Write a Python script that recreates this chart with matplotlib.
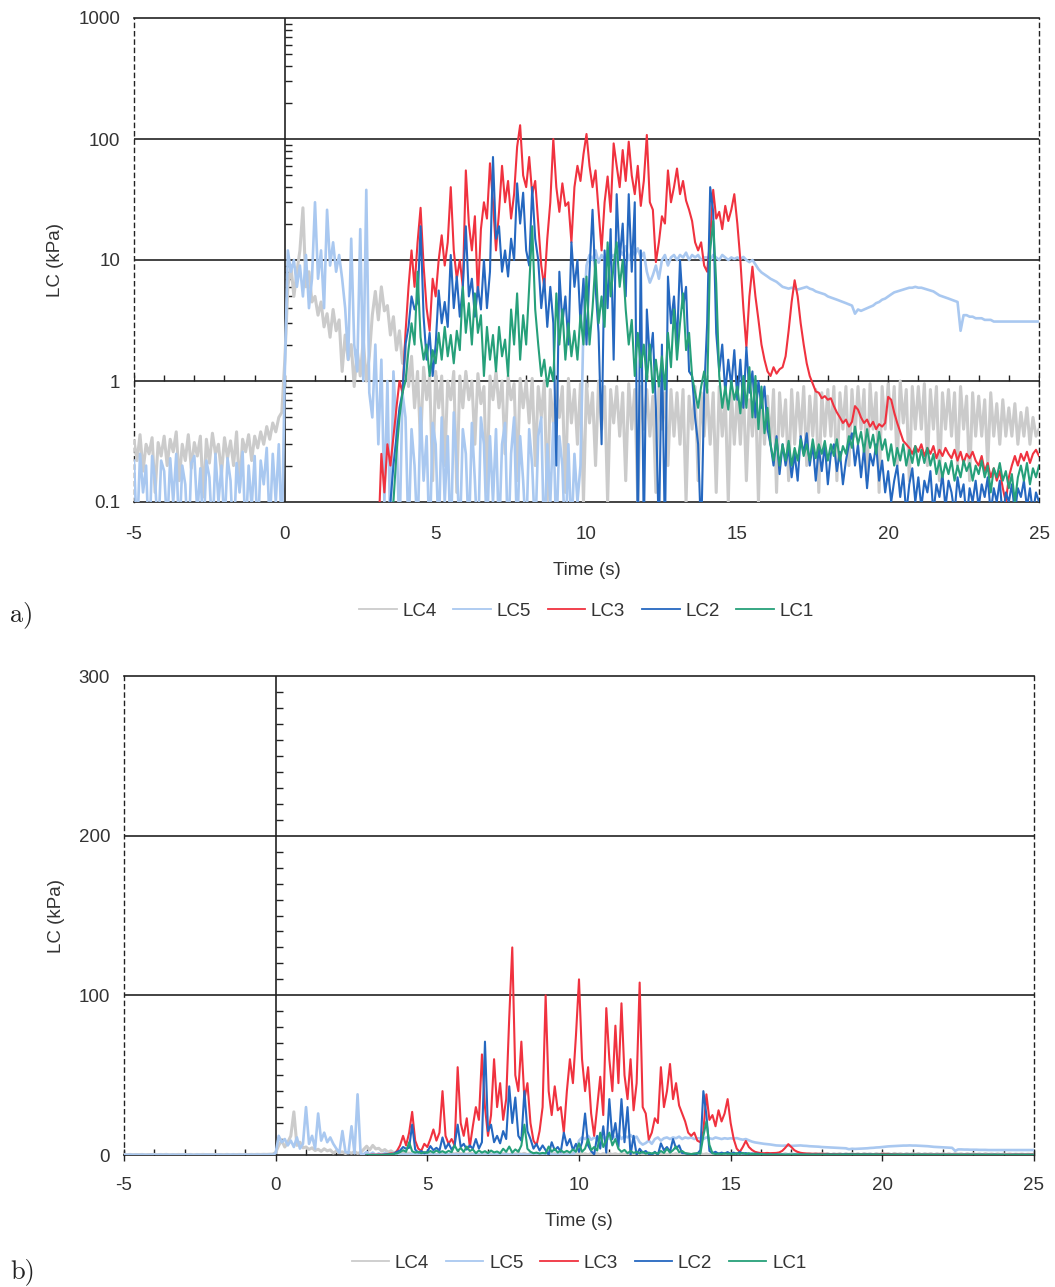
import numpy as np
import matplotlib.pyplot as plt

plt.rcParams['font.family'] = ['Liberation Sans', 'DejaVu Sans']
plt.rcParams['font.size'] = 13.5
TXT = '#333333'

t0_full = -5.0
t0_event = 3.0

lc4 = [
    0.32, 0.22, 0.36, 0.18, 0.30, 0.25, 0.34, 0.12, 0.31, 0.24,
    0.35, 0.20, 0.33, 0.26, 0.38, 0.15, 0.30, 0.22, 0.36, 0.19,
    0.31, 0.24, 0.35, 0.11, 0.33, 0.21, 0.37, 0.25, 0.30, 0.17,
    0.34, 0.23, 0.32, 0.20, 0.38, 0.13, 0.33, 0.26, 0.36, 0.22,
    0.35, 0.28, 0.38, 0.30, 0.42, 0.33, 0.45, 0.38, 0.50, 0.55,
    1.5, 6.0, 9.0, 5.0, 8.0, 12.0, 27.0, 6.0, 8.0, 4.5,
    5.0, 3.5, 4.5, 2.8, 3.6, 2.3, 3.9, 2.6, 3.2, 1.2,
    2.4, 1.5, 2.0, 0.9, 1.8, 1.1, 2.2, 1.0, 1.6, 3.5,
    5.5, 3.2, 6.0, 3.8, 4.2, 2.4, 3.4, 1.8, 2.6, 1.4,
    2.0, 0.9, 1.6, 0.6, 1.2, 0.3, 1.3, 0.7, 1.1, 0.15,
    1.2, 0.6, 1.1, 0.2, 1.0, 0.7, 1.2, 0.12, 1.1, 0.6,
    1.2, 0.7, 1.0, 0.3, 1.15, 0.65, 0.9, 0.12, 1.1, 0.7,
    1.2, 0.6, 1.0, 0.25, 1.1, 0.7, 0.95, 0.15, 1.05, 0.6,
    1.0, 0.45, 1.05, 0.2, 0.9, 0.5, 1.0, 0.1, 0.85, 0.45,
    1.0, 0.5, 0.9, 0.12, 1.05, 0.45, 0.85, 0.3, 0.95, 0.1,
    0.95, 0.45, 0.8, 0.2, 1.0, 0.4, 0.9, 0.1, 0.85, 0.45,
    0.9, 0.35, 0.8, 0.15, 0.95, 0.4, 0.85, 0.1, 0.9, 0.4,
    0.85, 0.35, 0.75, 0.12, 0.9, 0.4, 0.8, 0.2, 0.85, 0.35,
    0.8, 0.3, 0.85, 0.1, 0.75, 0.4, 0.9, 0.15, 0.8, 0.35,
    0.85, 0.3, 0.8, 0.12, 0.9, 0.35, 0.75, 0.1, 0.85, 0.3,
    0.8, 0.3, 0.9, 0.15, 0.7, 0.35, 0.85, 0.1, 0.8, 0.3,
    0.75, 0.3, 0.85, 0.12, 0.8, 0.35, 0.7, 0.15, 0.85, 0.3,
    0.8, 0.35, 0.9, 0.2, 0.75, 0.35, 0.85, 0.12, 0.8, 0.35,
    0.85, 0.35, 0.9, 0.15, 0.8, 0.4, 0.9, 0.2, 0.85, 0.35,
    0.9, 0.4, 0.85, 0.15, 0.95, 0.4, 0.8, 0.12, 0.9, 0.4,
    0.95, 0.4, 0.9, 0.2, 1.0, 0.45, 0.85, 0.15, 0.9, 0.4,
    0.9, 0.4, 0.95, 0.2, 0.85, 0.4, 0.9, 0.15, 0.8, 0.4,
    0.85, 0.35, 0.8, 0.2, 0.9, 0.4, 0.75, 0.15, 0.8, 0.35,
    0.75, 0.35, 0.7, 0.2, 0.8, 0.35, 0.65, 0.3, 0.7, 0.35,
    0.6, 0.35, 0.65, 0.3, 0.55, 0.35, 0.6, 0.3, 0.5, 0.35,
    0.4,
]

lc5 = [
    0.22, 0.05, 0.25, 0.12, 0.20, 0.04, 0.24, 0.15, 0.05, 0.22,
    0.18, 0.06, 0.23, 0.10, 0.25, 0.05, 0.20, 0.14, 0.04, 0.21,
    0.24, 0.08, 0.19, 0.05, 0.22, 0.16, 0.05, 0.25, 0.10, 0.20,
    0.06, 0.23, 0.15, 0.04, 0.21, 0.12, 0.26, 0.05, 0.20, 0.09,
    0.24, 0.05, 0.22, 0.14, 0.28, 0.06, 0.25, 0.10, 0.30, 0.05,
    1.2, 12.0, 8.0, 10.0, 6.0, 9.0, 5.0, 11.0, 4.0, 7.0,
    30.0, 7.0, 12.0, 4.0, 26.0, 9.0, 14.0, 8.0, 11.0, 7.0,
    4.0, 1.5, 15.0, 2.0, 1.2, 18.0, 1.0, 38.0, 0.8, 0.5,
    2.0, 0.3, 1.5, 0.1, 1.0, 0.05, 1.2, 0.4, 0.05, 0.8,
    0.5, 0.05, 0.4, 0.2, 0.05, 0.6, 0.15, 0.35, 0.04, 0.45,
    0.3, 0.05, 0.5, 0.1, 0.35, 0.04, 0.55, 0.2, 0.05, 0.4,
    0.25, 0.05, 0.45, 0.15, 0.04, 0.5, 0.3, 0.05, 0.35, 0.1,
    0.4, 0.05, 0.3, 0.45, 0.04, 0.25, 0.5, 0.05, 0.35, 0.15,
    0.05, 0.4, 0.2, 0.05, 0.35, 0.5, 0.04, 0.3, 0.1, 0.45,
    0.05, 0.35, 0.2, 0.04, 0.3, 0.05, 0.25, 0.1, 0.2, 3.0,
    9.0, 11.0, 10.0, 12.0, 9.5, 11.0, 10.0, 12.0, 10.5, 11.0,
    10.0, 12.0, 11.0, 13.0, 10.0, 12.0, 11.0, 12.5, 10.5, 11.5,
    8.0, 6.5, 7.5, 9.0, 7.0, 10.0, 11.0, 9.0, 10.5, 11.0,
    10.0, 11.0, 10.5, 11.5, 10.0, 11.0, 10.5, 11.0, 10.0, 10.5,
    10.5, 10.0, 11.0, 10.5, 10.0, 11.0, 10.5, 10.0, 10.5, 10.2,
    10.5, 10.2, 10.6, 10.0, 9.6, 10.0, 9.2, 8.4, 7.9, 7.6,
    7.3, 7.0, 6.8, 6.6, 6.3, 6.0, 5.9, 5.8, 5.9, 5.8,
    5.7, 5.8, 5.9, 6.0, 5.8, 5.7, 5.5, 5.4, 5.3, 5.2,
    5.0, 4.9, 4.8, 4.7, 4.6, 4.5, 4.4, 4.3, 4.2, 3.6,
    3.9, 3.8, 3.9, 4.0, 4.1, 4.2, 4.4, 4.5, 4.7, 4.8,
    5.0, 5.2, 5.4, 5.5, 5.6, 5.7, 5.8, 5.9, 5.9, 6.0,
    5.9, 5.9, 5.8, 5.7, 5.6, 5.5, 5.3, 5.1, 5.0, 4.9,
    4.8, 4.7, 4.6, 4.5, 2.6, 3.5, 3.5, 3.4, 3.4, 3.3,
    3.3, 3.3, 3.2, 3.2, 3.2, 3.1, 3.1, 3.1, 3.1, 3.1,
    3.1, 3.1, 3.1, 3.1, 3.1, 3.1, 3.1, 3.1, 3.1, 3.1,
    3.1,
]

lc3 = [
    0.02, 0.05, 0.25, 0.12, 0.3, 0.2, 0.35, 0.6, 1.0, 0.8,
    2.5, 6.0, 12.0, 6.0, 14.0, 27.0, 9.0, 4.0, 2.6, 7.0,
    5.0, 10.0, 16.0, 9.0, 14.0, 40.0, 12.0, 7.0, 10.0, 6.0,
    55.0, 20.0, 12.0, 23.0, 5.0, 18.0, 30.0, 22.0, 63.0, 30.0,
    12.0, 25.0, 60.0, 30.0, 45.0, 22.0, 35.0, 86.0, 130.0, 50.0,
    40.0, 71.0, 35.0, 45.0, 20.0, 9.0, 6.0, 15.0, 30.0, 100.0,
    40.0, 25.0, 43.0, 28.0, 30.0, 14.0, 40.0, 60.0, 45.0, 75.0,
    110.0, 60.0, 40.0, 55.0, 26.0, 12.0, 30.0, 49.0, 25.0, 92.0,
    60.0, 40.0, 81.0, 45.0, 95.0, 50.0, 35.0, 60.0, 28.0, 45.0,
    108.0, 30.0, 26.0, 9.6, 14.0, 23.0, 20.0, 55.0, 30.0, 40.0,
    57.0, 35.0, 45.0, 31.0, 26.0, 21.0, 14.0, 12.0, 14.0, 9.0,
    8.0, 15.0, 38.0, 22.0, 25.0, 18.0, 28.0, 21.0, 26.0, 35.0,
    20.0, 10.0, 4.0, 1.9, 5.0, 8.8, 5.0, 3.2, 2.0, 1.5,
    1.2, 1.1, 1.3, 1.15, 1.25, 1.3, 1.6, 2.6, 4.5, 6.8,
    5.0, 3.0, 2.0, 1.4, 1.1, 0.95, 0.82, 0.8, 0.72, 0.75,
    0.7, 0.72, 0.62, 0.55, 0.5, 0.45, 0.48, 0.42, 0.46, 0.62,
    0.58, 0.5, 0.45, 0.48, 0.42, 0.46, 0.4, 0.44, 0.42, 0.45,
    0.74, 0.7, 0.55, 0.45, 0.38, 0.32, 0.3, 0.28, 0.25, 0.29,
    0.26, 0.3, 0.24, 0.28, 0.25, 0.29, 0.23, 0.27, 0.24, 0.28,
    0.25, 0.23, 0.27, 0.22, 0.26, 0.21, 0.25, 0.23, 0.26, 0.22,
    0.2, 0.24, 0.18, 0.21, 0.16, 0.19, 0.15, 0.18, 0.13, 0.1,
    0.16, 0.2, 0.24, 0.2, 0.25, 0.22, 0.26, 0.21, 0.25, 0.27,
    0.24,
]

lc2 = [
    0.01, 0.01, 0.01, 0.01, 0.01, 0.1, 0.2, 0.35, 0.6, 0.8,
    2.0, 2.8, 5.0, 3.9, 4.5, 19.0, 3.4, 1.5, 2.5, 1.1,
    2.0, 5.6, 3.0, 4.5, 2.8, 11.0, 4.0, 7.3, 3.4, 6.0,
    19.0, 5.0, 7.0, 3.4, 6.0, 3.9, 10.0, 4.0, 8.0, 71.0,
    15.0, 19.0, 8.0, 12.0, 7.3, 15.0, 10.0, 43.0, 20.0, 36.0,
    12.0, 9.0, 40.0, 15.0, 10.0, 4.0, 7.0, 2.8, 6.0, 3.0,
    0.2, 8.0, 3.0, 5.0, 2.0, 14.0, 6.0, 10.0, 3.0, 7.0,
    2.0, 8.0, 26.0, 6.0, 2.5, 0.3, 12.0, 4.0, 18.0, 1.5,
    35.0, 10.0, 20.0, 5.0, 35.0, 8.0, 30.0, 0.05, 12.0, 0.05,
    3.9, 1.5, 2.5, 0.6, 0.05, 2.0, 0.05, 7.3, 3.0, 5.0,
    2.0, 10.0, 4.0, 6.0, 1.2, 1.1, 0.5, 0.3, 0.05, 0.8,
    3.0, 40.0, 25.0, 2.5, 1.2, 2.0, 0.8, 1.5, 0.9, 1.8,
    0.7, 1.5, 0.6, 1.9, 0.8, 1.2, 0.5, 1.0, 0.6, 0.9,
    0.4, 0.3, 0.2, 0.35, 0.17, 0.3, 0.2, 0.28, 0.16, 0.25,
    0.15, 0.35, 0.25, 0.37, 0.2, 0.3, 0.15, 0.28, 0.18, 0.3,
    0.14, 0.25, 0.3, 0.18, 0.26, 0.14, 0.22, 0.3, 0.37, 0.2,
    0.3, 0.16, 0.28, 0.13, 0.25, 0.2, 0.3, 0.15, 0.22, 0.12,
    0.18, 0.1, 0.15, 0.2, 0.11, 0.17, 0.08, 0.14, 0.19, 0.1,
    0.16, 0.09, 0.15, 0.12, 0.18, 0.08, 0.14, 0.11, 0.17, 0.09,
    0.15, 0.12, 0.08, 0.16, 0.11, 0.14, 0.07, 0.13, 0.1, 0.15,
    0.09, 0.14, 0.11, 0.16, 0.08, 0.13, 0.1, 0.15, 0.07, 0.12,
    0.1, 0.14, 0.08, 0.13, 0.11, 0.15, 0.09, 0.13, 0.08, 0.12,
    0.1,
]

lc1 = [
    0.01, 0.01, 0.01, 0.01, 0.01, 0.01, 0.1, 0.25, 0.5, 0.8,
    1.0, 1.8, 3.0, 2.0, 8.0, 2.3, 1.5, 2.0, 1.1, 1.8,
    1.4, 2.5, 1.5, 2.8, 1.6, 2.4, 1.4, 2.6, 1.8, 6.0,
    2.5, 4.4, 2.0, 5.3, 2.5, 3.5, 1.1, 2.8, 1.5, 2.4,
    1.2, 2.8, 1.6, 2.2, 1.1, 3.9, 2.0, 5.3, 1.5, 3.5,
    2.0, 6.0, 19.0, 3.9, 2.0, 1.1, 1.5, 0.9, 1.3, 1.0,
    5.3, 2.0, 3.9, 1.5, 3.0, 1.6, 2.6, 1.5, 3.5, 2.0,
    7.3, 2.0, 4.0, 10.0, 3.0, 5.0, 2.8, 14.0, 5.0, 9.0,
    14.0, 6.0, 10.0, 3.9, 2.0, 3.2, 1.1, 2.5, 1.3, 2.0,
    1.0, 2.0, 0.8, 1.5, 0.9, 1.6, 0.85, 2.5, 1.3, 3.9,
    1.5, 3.0, 5.3, 1.8, 2.5, 1.1, 0.8, 0.6, 0.9, 1.2,
    0.8, 12.0, 21.0, 6.4, 1.1, 0.6, 0.9, 0.58, 1.0, 0.7,
    0.9, 0.54, 1.1, 0.6, 1.3, 0.5, 1.1, 0.4, 0.9, 0.37,
    0.6, 0.3, 0.22, 0.33, 0.2, 0.3, 0.22, 0.32, 0.2, 0.28,
    0.22, 0.33, 0.24, 0.3, 0.22, 0.33, 0.23, 0.3, 0.25, 0.32,
    0.22, 0.3, 0.24, 0.33, 0.22, 0.29, 0.25, 0.35, 0.28, 0.42,
    0.3, 0.38, 0.26, 0.4, 0.28, 0.36, 0.25, 0.38, 0.27, 0.33,
    0.22, 0.3, 0.2, 0.28, 0.22, 0.3, 0.2, 0.27, 0.21, 0.29,
    0.2, 0.27, 0.21, 0.28, 0.2, 0.25, 0.17, 0.22, 0.16, 0.21,
    0.17, 0.22, 0.15, 0.2, 0.16, 0.22, 0.18, 0.21, 0.15, 0.2,
    0.17, 0.22, 0.16, 0.2, 0.12, 0.19, 0.16, 0.21, 0.15, 0.18,
    0.13, 0.17, 0.1, 0.16, 0.2, 0.15, 0.21, 0.14, 0.19, 0.16,
    0.2,
]

series_names = ['LC4', 'LC5', 'LC3', 'LC2', 'LC1']
series_vals = [lc4, lc5, lc3, lc2, lc1]
series_start = [t0_full, t0_full, t0_event, t0_event, t0_event]
colors = ['#cbcbcb', '#a9c8f0', '#f0323f', '#2568c0', '#26a07a']
widths = [2.2, 1.9, 1.5, 1.5, 1.5]

x_ticks = [-5, 0, 5, 10, 15, 20, 25]


def draw_series(ax):
    for name, vals, start, col, lw in zip(series_names, series_vals, series_start, colors, widths):
        t = start + 0.1 * np.arange(len(vals))
        ax.plot(t, vals, color=col, lw=lw, label=name, zorder=3)


def common_frame(ax):
    ax.set_xlim(-5, 25)
    ax.set_xticks(x_ticks)
    ax.set_xticklabels([str(v) for v in x_ticks])
    for side in ['left', 'right']:
        ax.spines[side].set_linestyle((0, (3, 3)))
        ax.spines[side].set_linewidth(1.0)
        ax.spines[side].set_color('#222222')
    for side in ['top', 'bottom']:
        ax.spines[side].set_linewidth(1.2)
        ax.spines[side].set_color('#222222')
    ax.tick_params(axis='y', length=0, pad=10, labelcolor=TXT)
    ax.tick_params(axis='x', labelcolor=TXT)
    ax.set_xlabel('Time (s)', color=TXT, labelpad=14)
    ax.set_ylabel('LC (kPa)', color=TXT, labelpad=10)
    leg = ax.legend(loc='center', bbox_to_anchor=(0.5, -0.226), ncol=5, frameon=False,
                    handlelength=2.0, columnspacing=0.9, handletextpad=0.3)
    for txt in leg.get_texts():
        txt.set_color(TXT)
    for h in leg.legend_handles:
        h.set_linewidth(1.3)


fig = plt.figure(figsize=(10.55, 12.87), dpi=100)

# a) log scale
ax1 = fig.add_axes([134 / 1055, 1 - 502 / 1287, 905 / 1055, 484 / 1287])
ax1.set_yscale('log')
ax1.set_ylim(0.1, 1000)
ax1.set_yticks([0.1, 1, 10, 100, 1000])
ax1.set_yticklabels(['0.1', '1', '10', '100', '1000'])
ax1.yaxis.set_minor_locator(plt.NullLocator())
for g in [1, 10, 100]:
    ax1.axhline(g, color='#222222', lw=1.2, zorder=1)
ax1.axvline(0, color='#222222', lw=1.2, zorder=1)
minor_log = np.outer(10.0 ** np.arange(-1, 3), np.arange(2, 10)).ravel()
ax1.plot(np.zeros_like(minor_log), minor_log, ls='none', marker=1, ms=5, mew=1.0,
         color='#222222', zorder=1)
sec_minor = np.array([v for v in range(-4, 25) if v % 5 != 0])
ax1.plot(sec_minor, np.ones_like(sec_minor), ls='none', marker=2, ms=4, mew=1.0,
         color='#222222', zorder=1)
ax1.plot(x_ticks, np.ones(len(x_ticks)), ls='none', marker='|', ms=9, mew=1.0,
         color='#222222', zorder=1)
ax1.tick_params(axis='x', length=0, pad=17)
draw_series(ax1)
common_frame(ax1)

# b) linear scale
ax2 = fig.add_axes([124 / 1055, 1 - 1155 / 1287, 910 / 1055, 479 / 1287])
ax2.set_ylim(0, 300)
ax2.set_yticks([0, 100, 200, 300])
for g in [100, 200]:
    ax2.axhline(g, color='#222222', lw=1.2, zorder=1)
ax2.axvline(0, color='#222222', lw=1.2, zorder=1)
minor_lin = np.array([v for v in range(10, 300, 10) if v % 100 != 0])
ax2.plot(np.zeros_like(minor_lin), minor_lin, ls='none', marker=1, ms=5, mew=1.0,
         color='#222222', zorder=1)
ax2.set_xticks(np.arange(-5, 26, 1), minor=True)
ax2.tick_params(axis='x', which='major', direction='inout', length=9, width=1.0, pad=11,
                color='#222222')
ax2.tick_params(axis='x', which='minor', direction='in', length=4, width=1.0, color='#222222')
draw_series(ax2)
common_frame(ax2)

fig.text(10 / 1055, 1 - 615 / 1287, 'a)', family=['cmr10', 'DejaVu Serif'], fontsize=19,
         va='center', ha='left', color='#222222')
fig.text(10 / 1055, 1 - 1272 / 1287, 'b)', family=['cmr10', 'DejaVu Serif'], fontsize=19,
         va='center', ha='left', color='#222222')

fig.savefig('out.png', dpi=100)
